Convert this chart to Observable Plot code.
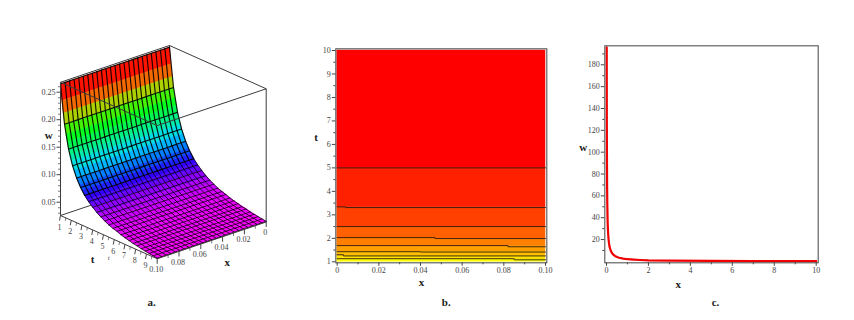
<!DOCTYPE html>
<html><head><meta charset="utf-8">
<script src="https://cdn.jsdelivr.net/npm/d3@7"></script>
<script src="https://cdn.jsdelivr.net/npm/@observablehq/plot@0.6"></script>
<style>
html,body{margin:0;padding:0;background:#fff}
#wrap{position:relative;width:854px;height:320px;overflow:hidden;background:#fff}
#wrap svg{position:absolute;top:0}
</style></head><body><div id="wrap"></div>
<script>
// ---------- data ----------
const surfaceT=[1,1.375,1.75,2.125,2.5,2.875,3.25,3.625,4,4.375,4.75,5.125,5.5,5.875,6.25,6.625,7,7.375,7.75,8.125,8.5,8.875,9.25,9.625,10];
const surfaceW=[.265,.195,.153,.126,.107,.093,.082,.074,.067,.061,.056,.052,.048,.045,.043,.040,.038,.036,.034,.033,.031,.030,.029,.028,.027];
const surfaceX=[0,.0042,.0083,.0125,.0167,.0208,.025,.0292,.0333,.0375,.0417,.0458,.05,.0542,.0583,.0625,.0667,.0708,.075,.0792,.0833,.0875,.0917,.0958,.1];
const shadeT=[1,1.125,1.25,1.375,1.5,1.625,1.75,1.875,2,2.25,2.5,2.75,3,3.25,3.5,3.75,4,4.5,5,5.5,6,6.5,7,7.5,8,8.5,9,9.5,10];
const shadeW=[.265,.236,.214,.195,.178,.165,.153,.143,.134,.119,.107,.097,.089,.082,.076,.071,.067,.059,.053,.048,.045,.041,.038,.036,.034,.032,.030,.028,.027];
const hueStops=[.027,.045,.06,.08,.096,.12,.145,.17,.19,.205,.22,.24,.265];
const hueColors=["#ff00ff","#e000ff","#a000ff","#2c00ff","#0060ff","#00d8ff","#00f090","#00ff20","#50f000","#b0d000","#f08000","#ff2000","#ff0000"];
const aTTicks=[1,2,3,4,5,6,7,8,9];
const aTMinor=[1.5,2.5,3.5,4.5,5.5,6.5,7.5,8.5,9.5];
const aXTicks=[0,.02,.04,.06,.08,.1];
const aXLabels=["0","0.02","0.04","0.06","0.08","0.10"];
const aXMinor=[.01,.03,.05,.07,.09];
const aWTicks=[.05,.1,.15,.2,.25];
const aWLabels=["0.05","0.10","0.15","0.20","0.25"];
const aWMinor=[.03,.04,.06,.07,.08,.09,.11,.12,.13,.14,.16,.17,.18,.19,.21,.22,.23,.24,.26];

const bandEdges=[1,1.11,1.25,1.43,1.67,2,2.5,3.33,5,10];
const bandColors=["#ffff00","#ffe000","#ffc000","#ffa000","#ff8000","#ff6000","#ff4000","#ff2000","#ff0000"];
const contourX=[
 [0,.1],[0,.004,.004,.1],[0,.1],[0,.047,.047,.1],[0,.082,.082,.1],[0,.04,.04,.1],[0,.003,.003,.1],[0,.085,.085,.1]];
const contourT=[
 [5,5],[3.34,3.34,3.31,3.31],[2.5,2.5],[2.03,2.03,1.99,1.99],[1.69,1.69,1.64,1.64],[1.43,1.43,1.415,1.415],[1.3,1.3,1.25,1.25],[1.13,1.13,1.085,1.085]];

const curveX=[.01,.015,.02,.03,.038,.05,.06,.08,.1,.12,.15,.2,.25,.3,.4,.5,.6,.8,1,1.3,1.6,2,3,5,7,10];
const curveW=[196,133,100,66,53,40,33,25,20,16.5,13,10,8,6.6,5,4,3.3,2.5,2,1.6,1.3,1,.7,.4,.3,.2];

// ---------- shared style ----------
const FONT="'Liberation Serif',serif", TICK="#444", BOX="#555", INK="#222";
const txt=(s,px,py,left,ml,mt,extra={})=>Plot.text([s],{text:d=>d,frameAnchor:"top-left",dx:px-left-ml,dy:py-mt,
  textAnchor:"middle",lineAnchor:"middle",fontFamily:FONT,fontWeight:"bold",fontSize:11,fill:INK,...extra});
const place=(svg,left)=>{svg.style.left=left+"px";document.getElementById("wrap").appendChild(svg)};
const base={height:320,style:{background:"transparent",fontFamily:FONT,fontSize:"8px",color:TICK}};

// ---------- panel a: 3-D surface, projected to the page plane ----------
const WMIN=.0258, WMAX=.268;
const px=(x,t)=>60+(t-1)/9*96.7+(.1-x)/.1*109;
const py=(x,t,w)=>215+(t-1)/9*43.3-(.1-x)/.1*36.8-(w-WMIN)*550;
// colour strips: one per shade sample, spanning the whole x range
const strips=[];
const [x0,x1]=[surfaceX[0],surfaceX[surfaceX.length-1]];
shadeT.slice(0,-1).forEach((t,i)=>{
  const t2=shadeT[i+1],w1=shadeW[i],w2=shadeW[i+1],m=(w1+w2)/2;
  [[x0,t,w1],[x1,t,w1],[x1,t2,w2],[x0,t2,w2],[x0,t,w1]].forEach(([a,b,c])=>strips.push({X:px(a,b),Y:py(a,b,c),w:m,id:i}));
});
// mesh lines, rows along x and columns along t; the steep upper part reads heavier
const rows=surfaceT.flatMap((t,i)=>surfaceX.map(x=>({X:px(x,t),Y:py(x,t,surfaceW[i]),id:i,t})));
const cols=surfaceX.flatMap((x,j)=>surfaceT.map((t,i)=>({X:px(x,t),Y:py(x,t,surfaceW[i]),id:j,t})));
const meshOpt={x:"X",y:"Y",z:"id",stroke:"#000",strokeOpacity:.9,curve:"linear"};
const edge=(a,b)=>({x1:px(a[0],a[1]),y1:py(...a),x2:px(b[0],b[1]),y2:py(...b)});
const cA=[.1,1,WMIN],cB=[.1,10,WMIN],cC=[0,10,WMIN],cD=[0,1,WMIN];
const up=c=>[c[0],c[1],WMAX];
const backEdges=[edge(cA,cD),edge(cD,cC),edge(up(cD),up(cC)),edge(cD,up(cD))];
const frontEdges=[edge(cA,up(cA)),edge(cC,up(cC)),edge(up(cA),up(cD)),edge(up(cA),up(cB)),edge(up(cC),up(cB)),edge(cA,cB),edge(cB,cC)];
const lnk=(opts={})=>({x1:"x1",y1:"y1",x2:"x2",y2:"y2",stroke:"#3c3c3c",strokeWidth:1,...opts});
const tk=(arr,fn,dx,dy)=>arr.map(v=>{const [x,y]=fn(v);return {x1:x,y1:y,x2:x+dx,y2:y+dy}});
const tP=t=>[px(.1,t),py(.1,t,WMIN)], xP=x=>[px(x,10),py(x,10,WMIN)], wP=w=>[px(.1,1),py(.1,1,w)];
const lab=(vals,labels,fn,dx,dy,o={})=>Plot.text(vals.map((v,i)=>{const [x,y]=fn(v);return {x:x+dx,y:y+dy,s:labels[i]}}),
  {x:"x",y:"y",text:"s",fontFamily:FONT,fontSize:8,fill:TICK,lineAnchor:"middle",...o});
place(Plot.plot({...base,width:300,margin:0,
  x:{domain:[0,300],range:[0,300],axis:null},
  y:{domain:[0,320],range:[0,320],axis:null},
  color:{type:"linear",domain:hueStops,range:hueColors,interpolate:"rgb"},
  marks:[
    Plot.link(backEdges,lnk()),
    Plot.line(strips,{x:"X",y:"Y",z:"id",fill:"w",stroke:"w",strokeWidth:.5,curve:"linear"}),
    Plot.line(cols.filter(d=>d.t<=3.25),{...meshOpt,strokeWidth:1.15}),
    Plot.line(cols.filter(d=>d.t>=3.25),{...meshOpt,strokeWidth:.85}),
    Plot.line(rows.filter(d=>d.t<=3.25),{...meshOpt,strokeWidth:1.1}),
    Plot.line(rows.filter(d=>d.t>3.25),{...meshOpt,strokeWidth:.85}),
    Plot.link(frontEdges,lnk()),
    Plot.link(tk(aWTicks,wP,-4,0),lnk({stroke:TICK})),
    Plot.link(tk(aWMinor,wP,-2.5,0),lnk({stroke:TICK,strokeWidth:.7})),
    Plot.link(tk(aTTicks,tP,-1,5),lnk({stroke:TICK})),
    Plot.link(tk(aTMinor,tP,-.6,3),lnk({stroke:TICK,strokeWidth:.7})),
    Plot.link(tk(aXTicks,xP,0,5),lnk({stroke:TICK})),
    Plot.link(tk(aXMinor,xP,0,3),lnk({stroke:TICK,strokeWidth:.7})),
    lab(aWTicks,aWLabels,wP,-5,0,{textAnchor:"end"}),
    lab(aTTicks,aTTicks.map(String),tP,-1,11.5),
    lab(aXTicks,aXLabels,xP,-1,10.5),
    txt("w",48.3,135,0,0,0),
    txt("t",92,259.3,0,0,0),
    Plot.text(["t"],{text:d=>d,frameAnchor:"top-left",dx:107.3,dy:257,fontFamily:FONT,fontStyle:"italic",fontSize:7,fill:"#555",lineAnchor:"middle"}),
    txt("x",226.7,262.3,0,0,0),
    txt("a.",151,301.7,0,0,0)
  ]}),0);

// ---------- panel b: contour plot ----------
const LB=300, bands=bandColors.map((c,i)=>({t1:bandEdges[i],t2:bandEdges[i+1],c}));
const contours=contourX.flatMap((xa,k)=>xa.map((x,i)=>({x,t:contourT[k][i],k})));
const bML=35.3,bMT=48.3;
place(Plot.plot({...base,width:270,marginLeft:bML,marginRight:270-246.3,marginTop:bMT,marginBottom:320-262.3,
  x:{domain:[0,.1],range:[336.7-LB,545-LB]},
  y:{domain:[1,10],range:[261.3,50]},
  marks:[
    Plot.rect(bands,{x1:()=>0,x2:()=>.1,y1:"t1",y2:"t2",fill:"c",inset:-.25}),
    Plot.line(contours,{x:"x",y:"t",z:"k",stroke:"#2b1a10",strokeWidth:.9,curve:"linear"}),
    Plot.frame({stroke:BOX,strokeWidth:1.1}),
    Plot.axisX([0,.02,.04,.06,.08,.1],{anchor:"bottom",label:null,tickSize:3.5,tickPadding:1.5,tickFormat:d=>d===0?"0":d3.format(".2f")(d),fontSize:8,fontFamily:FONT,stroke:TICK,fill:TICK}),
    Plot.axisX([.01,.03,.05,.07,.09],{anchor:"bottom",label:null,tickSize:2,tickFormat:()=>"",stroke:TICK}),
    Plot.axisY([1,2,3,4,5,6,7,8,9,10],{anchor:"left",label:null,tickSize:3.5,tickPadding:1.5,fontSize:8,fontFamily:FONT,stroke:TICK,fill:TICK}),
    Plot.axisY([1.5,2.5,3.5,4.5,5.5,6.5,7.5,8.5,9.5],{anchor:"left",label:null,tickSize:2,tickFormat:()=>"",stroke:TICK}),
    txt("t",315.7,137.3,LB,bML,bMT),
    txt("x",421,282.3,LB,bML,bMT),
    txt("b.",445.7,301.7,LB,bML,bMT)
  ]}),LB);

// ---------- panel c: line plot ----------
const LC=570, curve=curveX.map((x,i)=>({x,w:curveW[i]}));
const cML=34.3,cMT=45.3;
place(Plot.plot({...base,width:284,marginLeft:cML,marginRight:284-247.7,marginTop:cMT,marginBottom:320-262.3,
  x:{domain:[0,10],range:[606-LC,815.7-LC]},
  y:{domain:[0,180],range:[260.9,64.3]},
  marks:[
    Plot.line(curve,{x:"x",y:"w",stroke:"#f00000",strokeWidth:2.2,curve:"linear"}),
    Plot.frame({stroke:BOX,strokeWidth:1.1}),
    Plot.axisX([0,2,4,6,8,10],{anchor:"bottom",label:null,tickSize:3.5,tickPadding:1.5,fontSize:8,fontFamily:FONT,stroke:TICK,fill:TICK}),
    Plot.axisX([1,3,5,7,9],{anchor:"bottom",label:null,tickSize:2,tickFormat:()=>"",stroke:TICK}),
    Plot.axisY([20,40,60,80,100,120,140,160,180],{anchor:"left",label:null,tickSize:3.5,tickPadding:1.5,fontSize:8,fontFamily:FONT,stroke:TICK,fill:TICK}),
    Plot.axisY([10,30,50,70,90,110,130,150,170,190],{anchor:"left",label:null,tickSize:2,tickFormat:()=>"",stroke:TICK}),
    txt("w",582.7,146.7,LC,cML,cMT),
    txt("x",677.7,284,LC,cML,cMT),
    txt("c.",715,301.7,LC,cML,cMT)
  ]}),LC);
</script></body></html>
